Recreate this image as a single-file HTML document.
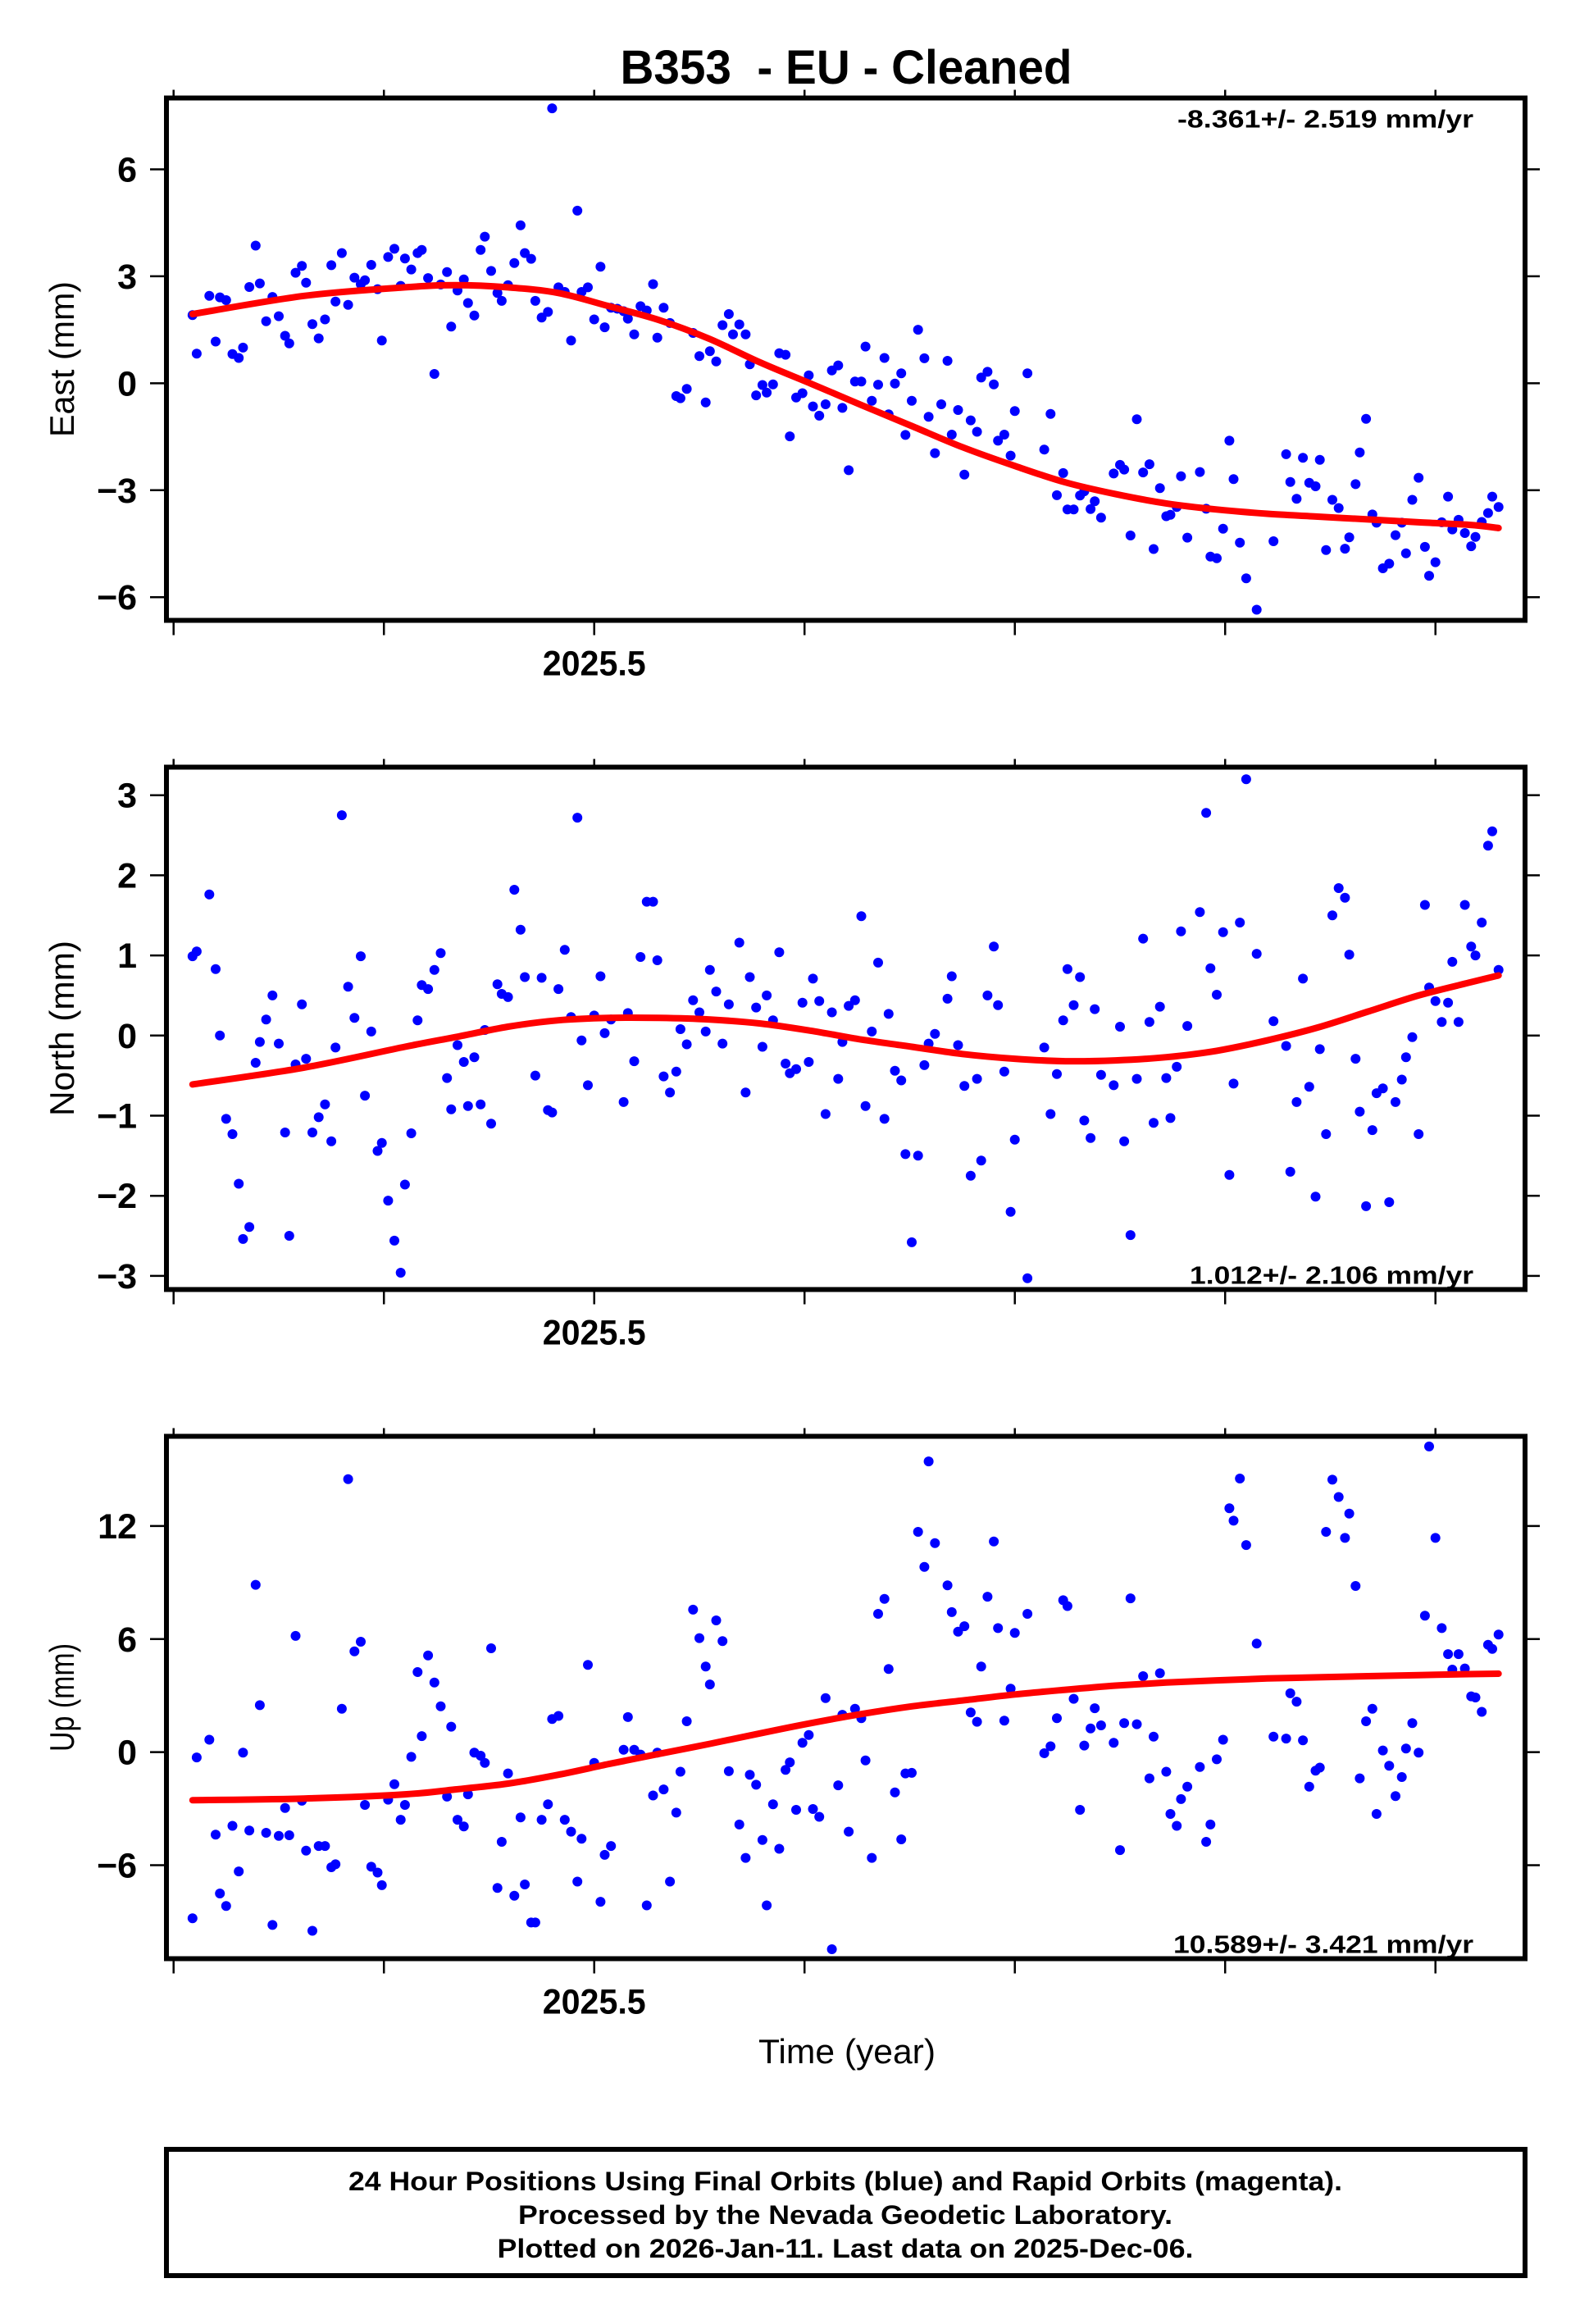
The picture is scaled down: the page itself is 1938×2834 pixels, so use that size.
<!DOCTYPE html>
<html><head><meta charset="utf-8">
<style>
html,body{margin:0;padding:0;background:#fff;}
svg{display:block;}
text{font-family:"Liberation Sans",Arial,sans-serif;}
</style></head>
<body>
<svg id="chart" width="1938" height="2834" viewBox="0 0 1938 2834" xmlns="http://www.w3.org/2000/svg">
<rect x="0" y="0" width="1938" height="2834" fill="#fff"/>
<text x="1032" y="102" font-size="58" font-weight="bold" text-anchor="middle" textLength="551" lengthAdjust="spacingAndGlyphs">B353&#160; - EU - Cleaned</text>
<text x="1033" y="2516" font-size="42" text-anchor="middle" textLength="216" lengthAdjust="spacingAndGlyphs">Time (year)</text>
<rect x="203" y="2621" width="1657" height="154" fill="none" stroke="#000" stroke-width="6"/>
<text x="1031" y="2671" font-size="32" font-weight="bold" text-anchor="middle" textLength="1212" lengthAdjust="spacingAndGlyphs">24 Hour Positions Using Final Orbits (blue) and Rapid Orbits (magenta).</text>
<text x="1031" y="2712" font-size="32" font-weight="bold" text-anchor="middle" textLength="798" lengthAdjust="spacingAndGlyphs">Processed by the Nevada Geodetic Laboratory.</text>
<text x="1031" y="2753" font-size="32" font-weight="bold" text-anchor="middle" textLength="849" lengthAdjust="spacingAndGlyphs">Plotted on 2026-Jan-11. Last data on 2025-Dec-06.</text>
</svg>
<script>
// ---- shared axis data ----
const xTickYears = [2025.3, 2025.4, 2025.5, 2025.6, 2025.7, 2025.8, 2025.9];
const xTickLabels = ["", "", "2025.5", "", "", "", ""];

// ---- East ----
const eastTimes = [2025.309,2025.311,2025.317,2025.320,2025.322,2025.325,2025.328,2025.331,2025.333,2025.336,2025.339,2025.341,2025.344,2025.347,2025.350,2025.353,2025.355,2025.358,2025.361,2025.363,2025.366,2025.369,2025.372,2025.375,2025.377,2025.380,2025.383,2025.386,2025.389,2025.391,2025.394,2025.397,2025.399,2025.402,2025.405,2025.408,2025.410,2025.413,2025.416,2025.418,2025.421,2025.424,2025.427,2025.430,2025.432,2025.435,2025.438,2025.440,2025.443,2025.446,2025.448,2025.451,2025.454,2025.456,2025.459,2025.462,2025.465,2025.467,2025.470,2025.472,2025.475,2025.478,2025.480,2025.483,2025.486,2025.489,2025.492,2025.494,2025.497,2025.500,2025.503,2025.505,2025.508,2025.511,2025.514,2025.516,2025.519,2025.522,2025.525,2025.528,2025.530,2025.533,2025.536,2025.539,2025.541,2025.544,2025.547,2025.550,2025.553,2025.555,2025.558,2025.561,2025.564,2025.566,2025.569,2025.572,2025.574,2025.577,2025.580,2025.582,2025.585,2025.588,2025.591,2025.593,2025.596,2025.599,2025.602,2025.604,2025.607,2025.610,2025.613,2025.616,2025.618,2025.621,2025.624,2025.627,2025.629,2025.632,2025.635,2025.638,2025.640,2025.643,2025.646,2025.648,2025.651,2025.654,2025.657,2025.659,2025.662,2025.665,2025.668,2025.670,2025.673,2025.676,2025.679,2025.682,2025.684,2025.687,2025.690,2025.692,2025.695,2025.698,2025.700,2025.706,2025.714,2025.717,2025.720,2025.723,2025.725,2025.728,2025.731,2025.733,2025.736,2025.738,2025.741,2025.747,2025.750,2025.752,2025.755,2025.758,2025.761,2025.764,2025.766,2025.769,2025.772,2025.774,2025.777,2025.779,2025.782,2025.788,2025.791,2025.793,2025.796,2025.799,2025.802,2025.804,2025.807,2025.810,2025.815,2025.823,2025.829,2025.831,2025.834,2025.837,2025.840,2025.843,2025.845,2025.848,2025.851,2025.854,2025.857,2025.859,2025.862,2025.864,2025.867,2025.870,2025.872,2025.875,2025.878,2025.881,2025.884,2025.886,2025.889,2025.892,2025.895,2025.897,2025.900,2025.903,2025.906,2025.908,2025.911,2025.914,2025.917,2025.919,2025.922,2025.925,2025.927,2025.930];
const eastValues = [1.91,0.83,2.45,1.17,2.41,2.33,0.82,0.71,1.0,2.7,3.86,2.8,1.74,2.42,1.88,1.33,1.12,3.1,3.29,2.82,1.66,1.26,1.79,3.31,2.29,3.65,2.2,2.96,2.78,2.89,3.32,2.64,1.2,3.54,3.77,2.73,3.5,3.19,3.65,3.74,2.95,0.26,2.77,3.12,1.59,2.6,2.91,2.25,1.9,3.74,4.11,3.15,2.53,2.31,2.75,3.37,4.43,3.65,3.49,2.31,1.84,2.0,7.71,2.69,2.56,1.2,4.84,2.56,2.69,1.79,3.27,1.57,2.12,2.09,2.02,1.81,1.37,2.16,2.04,2.78,1.28,2.12,1.69,-0.36,-0.42,-0.16,1.41,0.76,-0.54,0.9,0.61,1.63,1.94,1.37,1.65,1.37,0.53,-0.34,-0.05,-0.26,-0.03,0.84,0.8,-1.49,-0.4,-0.28,0.22,-0.65,-0.91,-0.59,0.36,0.5,-0.69,-2.44,0.05,0.05,1.03,-0.49,-0.04,0.71,-0.87,-0.01,0.28,-1.45,-0.49,1.5,0.7,-0.94,-1.96,-0.59,0.63,-1.44,-0.75,-2.56,-1.04,-1.36,0.16,0.32,-0.03,-1.61,-1.44,-2.03,-0.78,0.28,-1.86,-0.86,-3.14,-2.52,-3.54,-3.54,-3.15,-3.03,-3.53,-3.31,-3.77,-2.53,-2.29,-2.42,-4.27,-1.01,-2.5,-2.27,-4.65,-2.94,-3.73,-3.69,-3.47,-2.61,-4.33,-2.49,-3.52,-4.86,-4.91,-4.08,-1.61,-2.69,-4.47,-5.47,-6.35,-4.43,-1.99,-2.77,-3.24,-2.09,-2.79,-2.89,-2.15,-4.68,-3.27,-3.5,-4.64,-4.32,-2.83,-1.94,-1.0,-3.68,-3.91,-5.19,-5.06,-4.26,-3.91,-4.77,-3.27,-2.65,-4.59,-5.4,-5.02,-3.9,-3.18,-4.1,-3.83,-4.2,-4.57,-4.31,-3.89,-3.64,-3.18,-3.47];
const eastTicks = [-6, -3, 0, 3, 6];
const eastFitTimes = [2025.309,2025.362,2025.410,2025.434,2025.459,2025.483,2025.507,2025.531,2025.555,2025.579,2025.603,2025.627,2025.651,2025.675,2025.700,2025.724,2025.748,2025.772,2025.796,2025.820,2025.844,2025.868,2025.892,2025.916,2025.930];
const eastFitValues = [1.94,2.45,2.69,2.75,2.69,2.53,2.16,1.77,1.24,0.58,-0.01,-0.61,-1.2,-1.79,-2.32,-2.78,-3.11,-3.37,-3.54,-3.66,-3.74,-3.82,-3.9,-3.97,-4.06];

// ---- North ----
const northTimes = [2025.309,2025.311,2025.317,2025.320,2025.322,2025.325,2025.328,2025.331,2025.333,2025.336,2025.339,2025.341,2025.344,2025.347,2025.350,2025.353,2025.355,2025.358,2025.361,2025.363,2025.366,2025.369,2025.372,2025.375,2025.377,2025.380,2025.383,2025.386,2025.389,2025.391,2025.394,2025.397,2025.399,2025.402,2025.405,2025.408,2025.410,2025.413,2025.416,2025.418,2025.421,2025.424,2025.427,2025.430,2025.432,2025.435,2025.438,2025.440,2025.443,2025.446,2025.448,2025.451,2025.454,2025.456,2025.459,2025.462,2025.465,2025.467,2025.472,2025.475,2025.478,2025.480,2025.483,2025.486,2025.489,2025.492,2025.494,2025.497,2025.500,2025.503,2025.505,2025.508,2025.514,2025.516,2025.519,2025.522,2025.525,2025.528,2025.530,2025.533,2025.536,2025.539,2025.541,2025.544,2025.547,2025.550,2025.553,2025.555,2025.558,2025.561,2025.564,2025.569,2025.572,2025.574,2025.577,2025.580,2025.582,2025.585,2025.588,2025.591,2025.593,2025.596,2025.599,2025.602,2025.604,2025.607,2025.610,2025.613,2025.616,2025.618,2025.621,2025.624,2025.627,2025.629,2025.632,2025.635,2025.638,2025.640,2025.643,2025.646,2025.648,2025.651,2025.654,2025.657,2025.659,2025.662,2025.668,2025.670,2025.673,2025.676,2025.679,2025.682,2025.684,2025.687,2025.690,2025.692,2025.695,2025.698,2025.700,2025.706,2025.714,2025.717,2025.720,2025.723,2025.725,2025.728,2025.731,2025.733,2025.736,2025.738,2025.741,2025.747,2025.750,2025.752,2025.755,2025.758,2025.761,2025.764,2025.766,2025.769,2025.772,2025.774,2025.777,2025.779,2025.782,2025.788,2025.791,2025.793,2025.796,2025.799,2025.802,2025.804,2025.807,2025.810,2025.815,2025.823,2025.829,2025.831,2025.834,2025.837,2025.840,2025.843,2025.845,2025.848,2025.851,2025.854,2025.857,2025.859,2025.862,2025.864,2025.867,2025.870,2025.872,2025.875,2025.878,2025.881,2025.884,2025.886,2025.889,2025.892,2025.895,2025.897,2025.900,2025.903,2025.906,2025.908,2025.911,2025.914,2025.917,2025.919,2025.922,2025.925,2025.927,2025.930];
const northValues = [0.99,1.05,1.76,0.83,0.0,-1.04,-1.23,-1.85,-2.54,-2.39,-0.34,-0.08,0.2,0.5,-0.1,-1.21,-2.5,-0.36,0.39,-0.29,-1.21,-1.02,-0.86,-1.32,-0.15,2.75,0.61,0.22,0.99,-0.75,0.05,-1.44,-1.34,-2.06,-2.56,-2.96,-1.86,-1.22,0.19,0.63,0.58,0.82,1.03,-0.53,-0.92,-0.12,-0.33,-0.88,-0.27,-0.86,0.07,-1.1,0.64,0.52,0.48,1.82,1.32,0.73,-0.5,0.72,-0.93,-0.96,0.58,1.07,0.23,2.72,-0.06,-0.62,0.25,0.74,0.03,0.2,-0.83,0.28,-0.32,0.98,1.67,1.67,0.94,-0.51,-0.71,-0.45,0.08,-0.11,0.44,0.29,0.05,0.82,0.55,-0.1,0.39,1.16,-0.71,0.73,0.35,-0.14,0.5,0.19,1.04,-0.35,-0.47,-0.42,0.41,-0.33,0.71,0.43,-0.98,0.29,-0.54,-0.08,0.37,0.44,1.49,-0.88,0.05,0.91,-1.04,0.27,-0.44,-0.56,-1.48,-2.58,-1.5,-0.37,-0.1,0.02,0.46,0.74,-0.12,-0.63,-1.75,-0.54,-1.56,0.5,1.11,0.38,-0.45,-2.2,-1.3,-3.03,-0.15,-0.98,-0.48,0.19,0.83,0.38,0.73,-1.06,-1.28,0.33,-0.49,-0.62,0.11,-1.32,-2.49,-0.54,1.21,0.17,-1.09,0.36,-0.53,-1.03,-0.39,1.3,0.12,1.54,2.78,0.84,0.51,1.29,-1.74,-0.6,1.41,3.2,1.02,0.18,-0.13,-1.7,-0.83,0.71,-0.64,-2.01,-0.17,-1.23,1.5,1.84,1.72,1.01,-0.29,-0.95,-2.13,-1.18,-0.72,-0.66,-2.08,-0.83,-0.55,-0.27,-0.02,-1.23,1.63,0.6,0.43,0.17,0.41,0.92,0.17,1.63,1.11,1.0,1.41,2.37,2.55,0.82];
const northTicks = [-3, -2, -1, 0, 1, 2, 3];
const northFitTimes = eastFitTimes.slice();
const northFitValues = [-0.61,-0.40,-0.14,-0.02,0.11,0.19,0.22,0.22,0.2,0.15,0.06,-0.05,-0.14,-0.23,-0.29,-0.32,-0.31,-0.27,-0.19,-0.06,0.1,0.3,0.5,0.66,0.75];

// ---- Up ----
const upTimes = [2025.309,2025.311,2025.317,2025.320,2025.322,2025.325,2025.328,2025.331,2025.333,2025.336,2025.339,2025.341,2025.344,2025.347,2025.350,2025.353,2025.355,2025.358,2025.361,2025.363,2025.366,2025.369,2025.372,2025.375,2025.377,2025.380,2025.383,2025.386,2025.389,2025.391,2025.394,2025.397,2025.399,2025.402,2025.405,2025.408,2025.410,2025.413,2025.416,2025.418,2025.421,2025.424,2025.427,2025.430,2025.432,2025.435,2025.438,2025.440,2025.443,2025.446,2025.448,2025.451,2025.454,2025.456,2025.459,2025.462,2025.465,2025.467,2025.470,2025.472,2025.475,2025.478,2025.480,2025.483,2025.486,2025.489,2025.492,2025.494,2025.497,2025.500,2025.503,2025.505,2025.508,2025.514,2025.516,2025.519,2025.522,2025.525,2025.528,2025.530,2025.533,2025.536,2025.539,2025.541,2025.544,2025.547,2025.550,2025.553,2025.555,2025.558,2025.561,2025.564,2025.569,2025.572,2025.574,2025.577,2025.580,2025.582,2025.585,2025.588,2025.591,2025.593,2025.596,2025.599,2025.602,2025.604,2025.607,2025.610,2025.613,2025.616,2025.618,2025.621,2025.624,2025.627,2025.629,2025.632,2025.635,2025.638,2025.640,2025.643,2025.646,2025.648,2025.651,2025.654,2025.657,2025.659,2025.662,2025.668,2025.670,2025.673,2025.676,2025.679,2025.682,2025.684,2025.687,2025.690,2025.692,2025.695,2025.698,2025.700,2025.706,2025.714,2025.717,2025.720,2025.723,2025.725,2025.728,2025.731,2025.733,2025.736,2025.738,2025.741,2025.747,2025.750,2025.752,2025.755,2025.758,2025.761,2025.764,2025.766,2025.769,2025.772,2025.774,2025.777,2025.779,2025.782,2025.788,2025.791,2025.793,2025.796,2025.799,2025.802,2025.804,2025.807,2025.810,2025.815,2025.823,2025.829,2025.831,2025.834,2025.837,2025.840,2025.843,2025.845,2025.848,2025.851,2025.854,2025.857,2025.859,2025.862,2025.864,2025.867,2025.870,2025.872,2025.875,2025.878,2025.881,2025.884,2025.886,2025.889,2025.892,2025.895,2025.897,2025.900,2025.903,2025.906,2025.908,2025.911,2025.914,2025.917,2025.919,2025.922,2025.925,2025.927,2025.930];
const upValues = [-8.82,-0.28,0.66,-4.38,-7.5,-8.16,-3.91,-6.33,-0.03,-4.16,8.88,2.49,-4.28,-9.17,-4.44,-2.96,-4.41,6.17,-2.58,-5.23,-9.48,-4.98,-4.98,-6.11,-5.95,2.3,14.49,5.35,5.86,-2.8,-6.08,-6.39,-7.06,-2.52,-1.7,-3.59,-2.8,-0.25,4.25,0.85,5.13,3.69,2.43,-2.36,1.35,-3.59,-3.94,-2.24,-0.03,-0.19,-0.57,5.51,-7.21,-4.76,-1.13,-7.62,-3.46,-7.02,-9.04,-9.04,-3.59,-2.77,1.76,1.92,-3.59,-4.22,-6.87,-4.6,4.63,-0.57,-7.94,-5.45,-4.98,0.13,1.86,0.13,-0.13,-8.13,-2.3,-0.03,-1.98,-6.87,-3.21,-1.04,1.64,7.56,6.05,4.54,3.59,6.99,5.89,-1.01,-3.84,-5.61,-1.2,-1.73,-4.66,-8.13,-2.77,-5.13,-0.94,-0.54,-3.06,0.5,0.91,-3.02,-3.43,2.87,-10.46,-1.76,1.98,-4.22,2.3,1.8,-0.44,-5.61,7.34,8.13,4.41,-2.14,-4.63,-1.13,-1.1,11.69,9.83,15.43,11.09,8.85,7.43,6.39,6.68,2.11,1.61,4.54,8.25,11.18,6.58,1.67,3.37,6.33,7.34,-0.06,0.31,1.8,8.06,7.75,2.83,-3.06,0.35,1.26,2.33,1.42,0.5,-5.2,1.54,8.16,1.48,4.03,-1.39,0.82,4.19,-1.04,-3.28,-3.91,-2.49,-1.83,-0.79,-4.76,-3.84,-0.38,0.66,12.94,12.28,14.52,10.99,5.76,0.82,0.72,3.12,2.68,0.63,-1.83,-0.98,-0.82,11.69,14.46,13.54,11.37,12.66,8.82,-1.39,1.64,2.3,-3.28,0.09,-0.72,-2.33,-1.32,0.19,1.54,-0.03,7.24,16.22,11.37,6.58,5.2,4.38,5.2,4.44,2.96,2.9,2.14,5.7,5.48,6.24];
const upTicks = [-6, 0, 6, 12];
const upFitTimes = eastFitTimes.slice();
const upFitValues = [-2.55,-2.46,-2.24,-1.98,-1.67,-1.2,-0.63,-0.09,0.44,1.0,1.54,2.02,2.43,2.74,3.06,3.31,3.53,3.69,3.81,3.91,3.97,4.03,4.09,4.14,4.16];

const eastRate = "-8.361+/- 2.519 mm/yr";
const northRate = "1.012+/- 2.106 mm/yr";
const upRate = "10.589+/- 3.421 mm/yr";

// ---- layout ----
const NS = "http://www.w3.org/2000/svg";
const svg = document.getElementById('chart');
const FX0 = 203, FX1 = 1860, FH = 637;
const XMIN = 2025.2966, XMAX = 2025.9426;
function xScale(t){ return FX0 + (t - XMIN) / (XMAX - XMIN) * (FX1 - FX0); }
function mk(tag, attrs, parent){
  const e = document.createElementNS(NS, tag);
  for (const k in attrs) e.setAttribute(k, attrs[k]);
  (parent || svg).appendChild(e);
  return e;
}

function drawPanel(key, top, ymin, ymax, times, values, fitT, fitV, ticks, label, labelLen, rate, rateLen, rateTop){
  const g = mk('g', {});
  
  
  const bottom = top + FH;
  const yScale = v => bottom - (v - ymin) / (ymax - ymin) * FH;

  const dg = mk('g', {fill:'#0000ff'}, g);
  
  
  for (let i = 0; i < times.length; i++){
    const c = mk('circle', {cx: xScale(times[i]).toFixed(1), cy: yScale(values[i]).toFixed(1), r: 6}, dg);
    
    
  }
  const pts = fitT.map((t, i) => [xScale(t), yScale(fitV[i])]);
  let d = 'M' + pts[0][0].toFixed(1) + ',' + pts[0][1].toFixed(1);
  for (let i = 0; i < pts.length - 1; i++){
    const p0 = pts[Math.max(0, i-1)], p1 = pts[i], p2 = pts[i+1], p3 = pts[Math.min(pts.length-1, i+2)];
    const c1x = p1[0] + (p2[0]-p0[0])/6, c1y = p1[1] + (p2[1]-p0[1])/6;
    const c2x = p2[0] - (p3[0]-p1[0])/6, c2y = p2[1] - (p3[1]-p1[1])/6;
    d += ' C' + c1x.toFixed(1)+','+c1y.toFixed(1)+' '+c2x.toFixed(1)+','+c2y.toFixed(1)+' '+p2[0].toFixed(1)+','+p2[1].toFixed(1);
  }
  const fit = mk('path', {d: d, fill:'none', stroke:'#ff0000', 'stroke-width': 8, 'stroke-linecap':'round'}, g);
  
  

  const fr = mk('rect', {x: FX0, y: top, width: FX1-FX0, height: FH, fill:'none', stroke:'#000', 'stroke-width': 6}, g);
  
  

  for (let i = 0; i < xTickYears.length; i++){
    const x = xScale(xTickYears[i]);
    const t1 = mk('line', {x1:x, x2:x, y1: top-3, y2: top-10, stroke:'#000', 'stroke-width':2.5}, g);
    
    
    const t2 = mk('line', {x1:x, x2:x, y1: bottom+3, y2: bottom+18, stroke:'#000', 'stroke-width':2.5}, g);
    
    
    if (xTickLabels[i]){
      const tl = mk('text', {x: x, y: bottom+67, 'font-size':43, 'font-weight':'bold', 'text-anchor':'middle', textLength:126, lengthAdjust:'spacingAndGlyphs'}, g);
      tl.textContent = xTickLabels[i];
      
      
    }
  }
  for (const v of ticks){
    const y = yScale(v);
    const a = mk('line', {x1: FX0-3, x2: FX0-20, y1:y, y2:y, stroke:'#000', 'stroke-width':2.5}, g);
    
    
    const b = mk('line', {x1: FX1+3, x2: FX1+18, y1:y, y2:y, stroke:'#000', 'stroke-width':2.5}, g);
    
    
    const tl = mk('text', {x: 167, y: y+15, 'font-size':43, 'font-weight':'bold', 'text-anchor':'end'}, g);
    tl.textContent = v < 0 ? '\u2212' + Math.abs(v) : String(v);
    
    
  }
  const cy = top + FH/2;
  const yt = mk('text', {x: 0, y: 0, 'font-size':42, 'text-anchor':'middle', transform:'translate(90,'+cy+') rotate(-90)', textLength: labelLen, lengthAdjust:'spacingAndGlyphs'}, g);
  yt.textContent = label;
  
  
  const ry = rateTop ? top + 36 : bottom - 7;
  const rt = mk('text', {x: 1797, y: ry, 'font-size':31, 'font-weight':'bold', 'text-anchor':'end', textLength: rateLen, lengthAdjust:'spacingAndGlyphs'}, g);
  rt.textContent = rate;
  
  
}

drawPanel('east', 119.5, -6.65, 8.0, eastTimes, eastValues, eastFitTimes, eastFitValues, eastTicks, 'East (mm)', 190, eastRate, 361, true);
drawPanel('north', 935.5, -3.17, 3.35, northTimes, northValues, northFitTimes, northFitValues, northTicks, 'North (mm)', 214, northRate, 346, false);
drawPanel('up', 1751.5, -10.96, 16.76, upTimes, upValues, upFitTimes, upFitValues, upTicks, 'Up (mm)', 132, upRate, 366, false);
</script>
</body></html>
